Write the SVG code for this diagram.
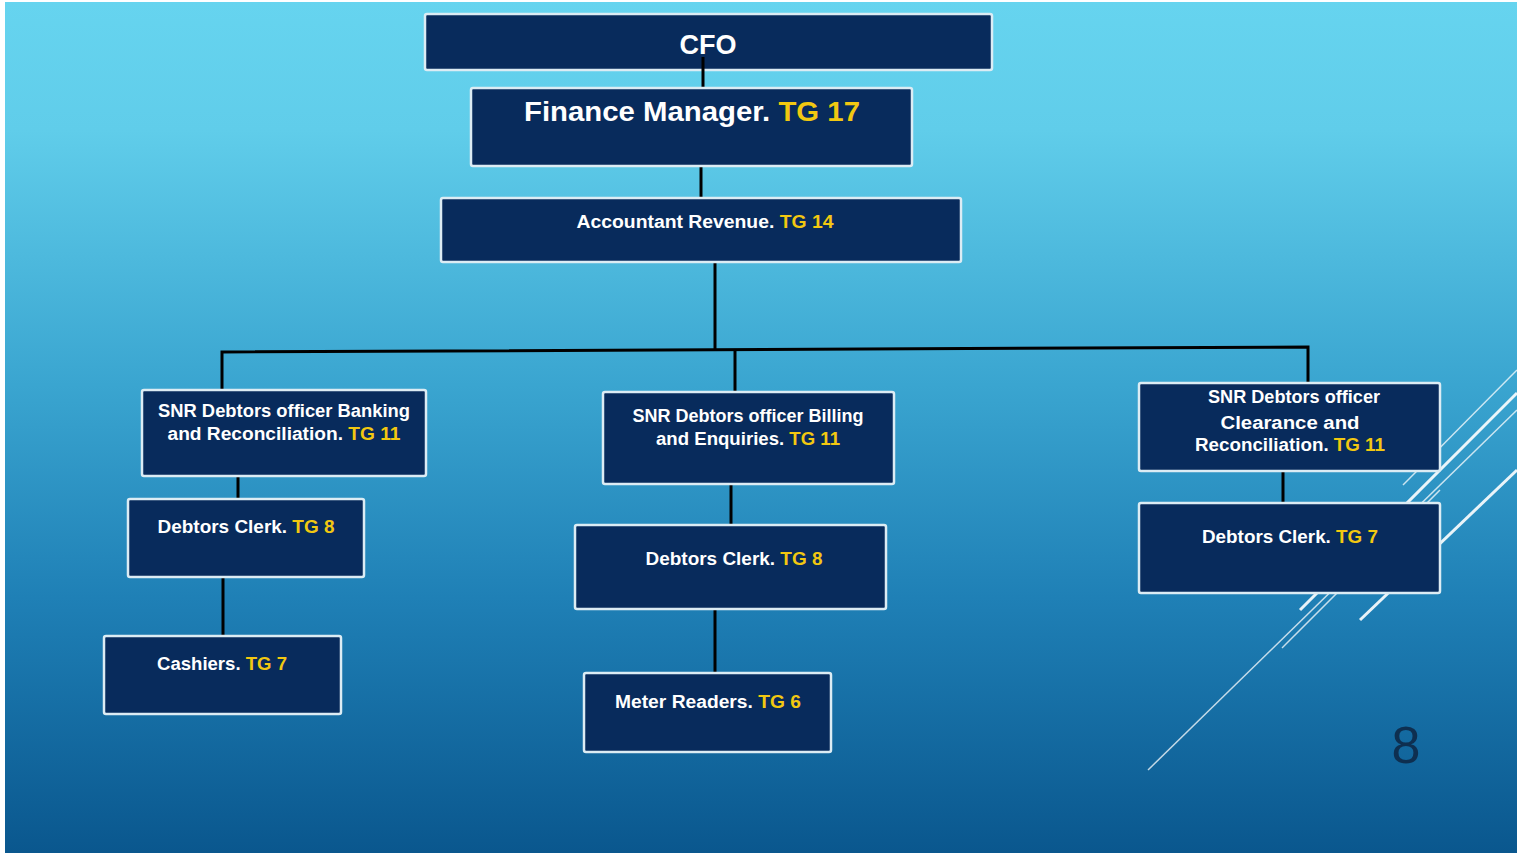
<svg xmlns="http://www.w3.org/2000/svg" width="1517" height="853" viewBox="0 0 1517 853">
<defs>
<linearGradient id="bg" x1="0" y1="0" x2="0" y2="1">
<stop offset="0" stop-color="#66d4ef"/>
<stop offset="0.15" stop-color="#60cdea"/>
<stop offset="0.45" stop-color="#3aa5d0"/>
<stop offset="0.7" stop-color="#1f80b6"/>
<stop offset="1" stop-color="#0a578e"/>
</linearGradient>
</defs>
<style>
.box{fill:#082b5c;stroke:#dcecf4;stroke-width:2.5}
.t{font-family:"Liberation Sans",Arial,sans-serif;font-weight:bold;fill:#ffffff;text-anchor:middle}
.s{font-size:17.5px}
.y{fill:#f2c811}
.c{stroke:#000000;stroke-width:3;fill:none}
.dt{stroke:#ffffff;stroke-opacity:0.75;stroke-width:1.5;fill:none}
.dk{stroke:#ffffff;stroke-opacity:0.9;stroke-width:3;fill:none}
</style>
<rect x="0" y="0" width="1517" height="853" fill="#ffffff"/>
<rect x="5" y="2" width="1512" height="851" fill="url(#bg)"/>
<g id="decor">
<line class="dt" x1="1403" y1="485" x2="1517" y2="370"/>
<line class="dt" x1="1148" y1="770" x2="1517" y2="410"/>
<line class="dt" x1="1282" y1="648" x2="1440" y2="490"/>
<line class="dk" x1="1300" y1="610" x2="1517" y2="393"/>
<line class="dk" x1="1360" y1="620" x2="1517" y2="470"/>
</g>
<g id="connectors">
<line class="c" x1="701" y1="166" x2="701" y2="198"/>
<line class="c" x1="715" y1="262" x2="715" y2="351"/>
<polyline class="c" points="222,390 222,352 1308,347 1308,383"/>
<line class="c" x1="735" y1="350" x2="735" y2="392"/>
<line class="c" x1="238" y1="476" x2="238" y2="499"/>
<line class="c" x1="223" y1="577" x2="223" y2="636"/>
<line class="c" x1="731" y1="484" x2="731" y2="525"/>
<line class="c" x1="715" y1="609" x2="715" y2="673"/>
<line class="c" x1="1283" y1="471" x2="1283" y2="503"/>
</g>
<g id="cfo">
<rect class="box" x="425" y="14" width="567" height="56" rx="2"/>
<text class="t" x="708" y="54" font-size="27">CFO</text>
</g>
<line class="c" x1="703" y1="57" x2="703" y2="89"/>
<g id="finance-manager">
<rect class="box" x="471" y="88" width="441" height="78" rx="2"/>
<text class="t" x="692" y="121" font-size="28.5" textLength="336" lengthAdjust="spacingAndGlyphs">Finance Manager. <tspan class="y">TG 17</tspan></text>
</g>
<g id="accountant-revenue">
<rect class="box" x="441" y="198" width="520" height="64" rx="2"/>
<text class="t" x="705" y="228" font-size="18" textLength="257" lengthAdjust="spacingAndGlyphs">Accountant Revenue. <tspan class="y">TG 14</tspan></text>
</g>
<g id="snr-banking">
<rect class="box" x="142" y="390" width="284" height="86" rx="2"/>
<text class="t s" x="284" y="417" textLength="252" lengthAdjust="spacingAndGlyphs">SNR Debtors officer Banking</text>
<text class="t s" x="284" y="440" textLength="233" lengthAdjust="spacingAndGlyphs">and Reconciliation. <tspan class="y">TG 11</tspan></text>
</g>
<g id="debtors-clerk-left">
<rect class="box" x="128" y="499" width="236" height="78" rx="2"/>
<text class="t s" x="246" y="533" textLength="177" lengthAdjust="spacingAndGlyphs">Debtors Clerk. <tspan class="y">TG 8</tspan></text>
</g>
<g id="cashiers">
<rect class="box" x="104" y="636" width="237" height="78" rx="2"/>
<text class="t s" x="222" y="670" textLength="130" lengthAdjust="spacingAndGlyphs">Cashiers. <tspan class="y">TG 7</tspan></text>
</g>
<g id="snr-billing">
<rect class="box" x="603" y="392" width="291" height="92" rx="2"/>
<text class="t s" x="748" y="422" textLength="231" lengthAdjust="spacingAndGlyphs">SNR Debtors officer Billing</text>
<text class="t s" x="748" y="445" textLength="184" lengthAdjust="spacingAndGlyphs">and Enquiries. <tspan class="y">TG 11</tspan></text>
</g>
<g id="debtors-clerk-mid">
<rect class="box" x="575" y="525" width="311" height="84" rx="2"/>
<text class="t s" x="734" y="565" textLength="177" lengthAdjust="spacingAndGlyphs">Debtors Clerk. <tspan class="y">TG 8</tspan></text>
</g>
<g id="meter-readers">
<rect class="box" x="584" y="673" width="247" height="79" rx="2"/>
<text class="t s" x="708" y="708" textLength="186" lengthAdjust="spacingAndGlyphs">Meter Readers. <tspan class="y">TG 6</tspan></text>
</g>
<g id="snr-clearance">
<rect class="box" x="1139" y="383" width="301" height="88" rx="2"/>
<text class="t s" x="1294" y="403" textLength="172" lengthAdjust="spacingAndGlyphs">SNR Debtors officer</text>
<text class="t s" x="1290" y="429" textLength="139" lengthAdjust="spacingAndGlyphs">Clearance and</text>
<text class="t s" x="1290" y="451" textLength="190" lengthAdjust="spacingAndGlyphs">Reconciliation. <tspan class="y">TG 11</tspan></text>
</g>
<g id="debtors-clerk-right">
<rect class="box" x="1139" y="503" width="301" height="90" rx="2"/>
<text class="t s" x="1290" y="543" textLength="176" lengthAdjust="spacingAndGlyphs">Debtors Clerk. <tspan class="y">TG 7</tspan></text>
</g>
<text x="1406" y="763" font-family="'Liberation Sans',Arial,sans-serif" font-size="52" fill="#0e2f50" text-anchor="middle">8</text>
</svg>
